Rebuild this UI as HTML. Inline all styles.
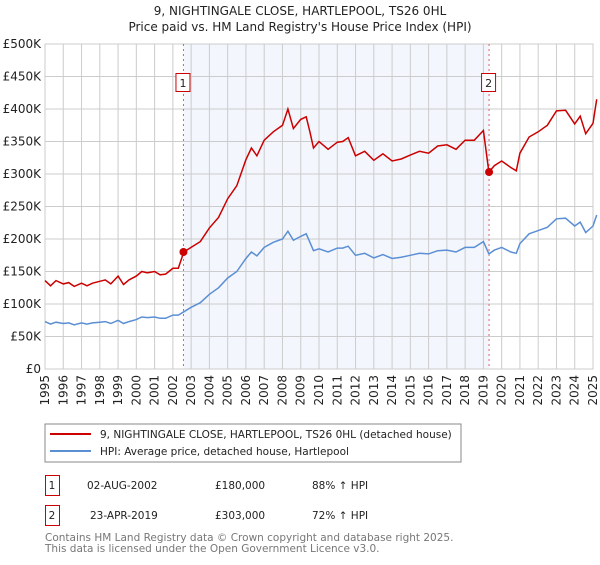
<!DOCTYPE html>
<html><head><meta charset="utf-8"><style>
body{margin:0;background:#fff;font-family:"Liberation Sans","DejaVu Sans",sans-serif;}
svg text{font-family:"DejaVu Sans","Liberation Sans",sans-serif;}
</style></head><body>
<svg width="600" height="560" xmlns="http://www.w3.org/2000/svg">
<text x="300" y="15" text-anchor="middle" font-size="12" fill="#222">9, NIGHTINGALE CLOSE, HARTLEPOOL, TS26 0HL</text>
<text x="300" y="31" text-anchor="middle" font-size="12" fill="#222">Price paid vs. HM Land Registry's House Price Index (HPI)</text>
<g id="plot"></g>
<rect x="45" y="424" width="416" height="38" fill="#fff" stroke="#888"/>
<line x1="50" y1="434" x2="91" y2="434" stroke="#cc0000" stroke-width="2"/>
<text x="100" y="438" font-size="10.5" fill="#222">9, NIGHTINGALE CLOSE, HARTLEPOOL, TS26 0HL (detached house)</text>
<line x1="50" y1="451" x2="91" y2="451" stroke="#5b8fd4" stroke-width="2"/>
<text x="100" y="455" font-size="10.5" fill="#222">HPI: Average price, detached house, Hartlepool</text>
<g>
<rect x="45.5" y="475.5" width="14" height="20" fill="#fff" stroke="#cc0000"/>
<text x="52" y="489" text-anchor="middle" font-size="10.5" fill="#222">1</text>
<text x="87" y="489" font-size="10.5" fill="#222">02-AUG-2002</text>
<text x="215" y="489" font-size="10.5" fill="#222">£180,000</text>
<text x="312" y="489" font-size="10.5" fill="#222">88% ↑ HPI</text>
</g>
<g>
<rect x="45.5" y="505.5" width="14" height="20" fill="#fff" stroke="#cc0000"/>
<text x="52" y="519" text-anchor="middle" font-size="10.5" fill="#222">2</text>
<text x="90" y="519" font-size="10.5" fill="#222">23-APR-2019</text>
<text x="215" y="519" font-size="10.5" fill="#222">£303,000</text>
<text x="312" y="519" font-size="10.5" fill="#222">72% ↑ HPI</text>
</g>
<text x="45" y="541" font-size="10.5" fill="#777">Contains HM Land Registry data © Crown copyright and database right 2025.</text>
<text x="45" y="552" font-size="10.5" fill="#777">This data is licensed under the Open Government Licence v3.0.</text>
</svg>
<script>
const years=[1995,1995.3,1995.6,1996,1996.3,1996.6,1997,1997.3,1997.6,1998,1998.3,1998.6,1999,1999.3,1999.6,2000,2000.3,2000.6,2001,2001.3,2001.6,2002,2002.3,2002.6,2003,2003.5,2004,2004.5,2005,2005.5,2006,2006.3,2006.6,2007,2007.5,2008,2008.3,2008.6,2009,2009.3,2009.5,2009.7,2010,2010.5,2011,2011.3,2011.6,2012,2012.5,2013,2013.5,2014,2014.5,2015,2015.5,2016,2016.5,2017,2017.5,2018,2018.5,2019,2019.3,2019.6,2020,2020.5,2020.8,2021,2021.5,2022,2022.5,2023,2023.5,2024,2024.3,2024.6,2025,2025.2];
const hpi=[73,69,72,70,71,68,71,69,71,72,73,70,75,70,73,76,80,79,80,78,78,83,83,88,95,102,115,125,140,150,170,180,174,187,195,200,212,198,204,208,195,182,185,180,186,186,189,175,178,171,176,170,172,175,178,177,182,183,180,187,187,196,177,183,187,180,178,193,208,213,218,231,232,220,226,210,220,237];
const prop=[136,128,136,131,133,127,132,128,132,135,137,131,143,130,137,143,150,148,150,145,146,155,155,180,187,196,217,233,262,282,322,340,328,352,365,375,400,370,384,388,365,340,350,338,349,350,356,328,335,321,331,320,323,329,335,332,343,345,338,352,352,367,303,313,320,310,305,332,357,365,375,397,398,377,389,362,378,415];
const yTicks=[0,50,100,150,200,250,300,350,400,450,500];
const xTicks=[1995,1996,1997,1998,1999,2000,2001,2002,2003,2004,2005,2006,2007,2008,2009,2010,2011,2012,2013,2014,2015,2016,2017,2018,2019,2020,2021,2022,2023,2024,2025];
const sales=[{t:2002.58,v:180,n:"1"},{t:2019.31,v:303,n:"2"}];
const X0=45,X1=593,Y0=369,Y1=44;
const xs=t=>X0+(t-1995)/30*(X1-X0);
const ys=v=>Y0-v/500*(Y0-Y1);
const NS="http://www.w3.org/2000/svg";
const g=document.getElementById('plot');
function mk(tag,attrs){const e=document.createElementNS(NS,tag);for(const k in attrs)e.setAttribute(k,attrs[k]);g.appendChild(e);return e;}
let e=mk('rect',{x:xs(sales[0].t),y:Y1,width:xs(sales[1].t)-xs(sales[0].t),height:Y0-Y1,fill:'#eef2fb',opacity:0.7});


yTicks.forEach(v=>{
 let l=mk('line',{x1:X0,x2:X1,y1:ys(v),y2:ys(v),stroke:'#ccc'});
 
 
 let t=mk('text',{x:X0-4,y:ys(v)+4,'text-anchor':'end','font-size':12,fill:'#222'});
 t.textContent=v===0?'£0':'£'+v+'K';
 
 
});
xTicks.forEach(y=>{
 let l=mk('line',{x1:xs(y),x2:xs(y),y1:Y1,y2:Y0,stroke:'#ccc'});
 
 
 let t=mk('text',{x:0,y:0,'text-anchor':'end','font-size':12,fill:'#222',transform:`translate(${xs(y)+4},375) rotate(-90)`});
 t.textContent=y;
 
 
});
let fr=mk('rect',{x:X0,y:Y1,width:X1-X0,height:Y0-Y1,fill:'none',stroke:'#ccc'});


sales.forEach(s=>{
 let l=mk('line',{x1:xs(s.t),x2:xs(s.t),y1:Y1,y2:Y0,stroke:'#e06060','stroke-dasharray':'2,3'});
 
 
});
const path=(arr)=>years.map((t,i)=>(i?'L':'M')+xs(t).toFixed(1)+','+ys(arr[i]).toFixed(1)).join('');
let hp=mk('path',{d:path(hpi),fill:'none',stroke:'#5b8fd4','stroke-width':1.5});


let pp=mk('path',{d:path(prop),fill:'none',stroke:'#cc0000','stroke-width':1.5});


sales.forEach(s=>{
 let c=mk('circle',{cx:xs(s.t),cy:ys(s.v),r:4,fill:'#cc0000'});
 
 
 let b=mk('rect',{x:xs(s.t)-7.5,y:73.5,width:14,height:18,fill:'#fff',stroke:'#cc0000'});
 
 
 let t=mk('text',{x:xs(s.t)-0.5,y:87,'text-anchor':'middle','font-size':11,fill:'#222'});
 t.textContent=s.n;
 
 
});
</script>
</body></html>
